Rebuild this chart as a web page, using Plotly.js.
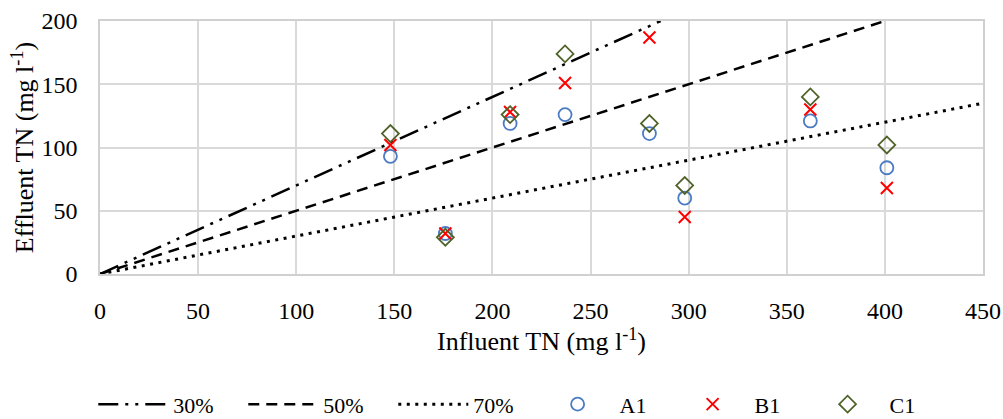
<!DOCTYPE html>
<html><head><meta charset="utf-8">
<script src="https://cdn.plot.ly/plotly-3.0.1.min.js"></script>
<style>html,body{margin:0;padding:0;background:#fff}#chart{width:1003px;height:419px}</style>
</head><body><div id="chart"></div>
<script>
const influent = [148, 176, 209, 237, 280, 298, 362, 401];
const a1 = [93, 32, 119, 126, 111, 60, 121, 84];
const b1 = [102, 32, 128, 151, 187, 45, 130, 68];
const c1 = [111, 29, 126, 174, 119, 70, 140, 102];
const lineX30 = [0, 285.7];
const lineY30 = [0, 200];
const lineX50 = [0, 400];
const lineY50 = [0, 200];
const lineX70 = [0, 450];
const lineY70 = [0, 135];

const font = '"Liberation Serif", serif';
const traces = [
  {x: lineX30, y: lineY30, name: '30%', mode: 'lines', legend: 'legend', line: {color: '#000', width: 2.5, dash: '20px,7px,3px,7px,3px,7px'}},
  {x: lineX50, y: lineY50, name: '50%', mode: 'lines', legend: 'legend', line: {color: '#000', width: 2.5, dash: '11px,7px'}},
  {x: lineX70, y: lineY70, name: '70%', mode: 'lines', legend: 'legend', line: {color: '#000', width: 3, dash: '3px,5.5px'}},
  {x: influent, y: a1, name: 'A1', mode: 'markers', legend: 'legend2', marker: {symbol: 'circle-open', size: 13, color: '#4a7bc4', line: {width: 1.8}}},
  {x: influent, y: b1, name: 'B1', mode: 'markers', legend: 'legend2', marker: {symbol: 'x-thin-open', size: 12, color: '#ff0000', line: {width: 2}}},
  {x: influent, y: c1, name: 'C1', mode: 'markers', legend: 'legend2', marker: {symbol: 'diamond-open', size: 13, color: '#4f6228', line: {width: 1.8}}}
];
const axisCommon = {showgrid: true, gridcolor: '#d9d9d9', gridwidth: 1.5, zeroline: false,
  showline: true, linecolor: '#d0d0d0', linewidth: 1.5, mirror: true,
  ticks: 'outside', tickcolor: 'rgba(0,0,0,0)', automargin: false,
  tickfont: {family: font, size: 24, color: '#000'}};
const layout = {
  width: 1003, height: 419,
  margin: {l: 100, r: 20, t: 21, b: 145},
  paper_bgcolor: '#fff', plot_bgcolor: '#fff',
  font: {family: font, size: 24, color: '#000'},
  showlegend: true,
  legend: {orientation: 'h', xref: 'container', yref: 'container', x: 0.093, xanchor: 'left', y: 0.035, yanchor: 'middle',
    itemwidth: 70, entrywidth: 65, font: {family: font, size: 22, color: '#000'}},
  legend2: {orientation: 'h', xref: 'container', yref: 'container', x: 0.534, xanchor: 'left', y: 0.035, yanchor: 'middle',
    itemwidth: 74, entrywidth: 46, font: {family: font, size: 22, color: '#000'}},
  xaxis: Object.assign({}, axisCommon, {range: [0, 450], dtick: 50, ticklen: 14,
    title: {text: 'Influent TN (mg l<sup>-1</sup>)', standoff: 6, font: {family: font, size: 26, color: '#000'}}}),
  yaxis: Object.assign({}, axisCommon, {range: [0, 200], dtick: 50, ticklen: 16,
    title: {text: 'Effluent TN (mg l<sup>-1</sup>)', font: {family: font, size: 26, color: '#000'}}})
};
Plotly.newPlot('chart', traces, layout, {displayModeBar: false});
</script></body></html>
